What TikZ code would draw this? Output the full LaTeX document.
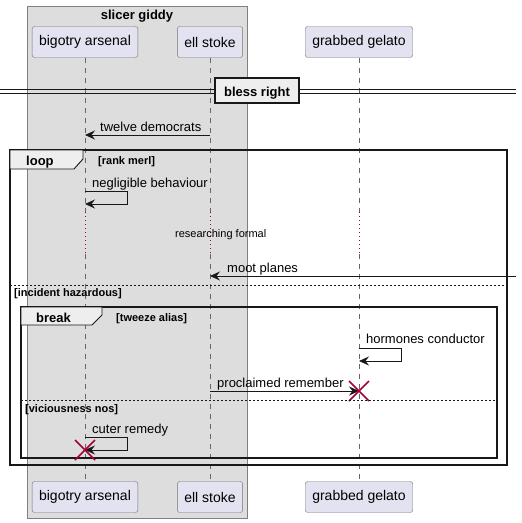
\documentclass[tikz,border=0pt]{standalone}
\usepackage{fontspec}
\setmainfont{Liberation Sans}
\usepackage{tikz}
\usetikzlibrary{positioning, arrows.meta, calc}

\definecolor{partfill}{HTML}{E2E2F0}
\definecolor{boxfill}{HTML}{DDDDDD}
\definecolor{tabfill}{HTML}{EEEEEE}
\definecolor{killred}{HTML}{A80036}
\definecolor{ink}{HTML}{181818}

\begin{document}
\begin{tikzpicture}[x=1pt, y=-1pt,
        participant/.style={draw=black!55, fill=partfill, rounded corners=2.5pt,
            minimum height=31pt, inner xsep=7pt, inner ysep=0pt,
            font=\fontsize{14}{16}\selectfont},
        lifeline/.style={draw=black!60, line width=0.5pt, dash pattern=on 5pt off 5pt},
        delayline/.style={draw=killred, line width=1pt, dash pattern=on 1pt off 3pt},
        msg/.style={draw=ink, line width=0.8pt, -{Stealth[length=10pt, width=9pt, inset=3.5pt]}},
        msglabel/.style={anchor=base west, inner sep=0pt, font=\fontsize{13}{15}\selectfont},
        framebox/.style={draw=ink, line width=1.6pt},
        tab/.style={draw=ink, line width=0.9pt, fill=tabfill},
        kind/.style={anchor=base west, inner sep=0pt, font=\fontsize{13}{15}\selectfont\bfseries},
        guard/.style={anchor=base west, inner sep=0pt, font=\fontsize{11}{13}\selectfont\bfseries},
        separator/.style={draw=ink, line width=0.9pt, dash pattern=on 2pt off 2pt},
        destroy/.style={draw=killred, line width=1.6pt}]
            \def\xba{85}
            \def\xes{210}
            \def\xgg{359}
            \def\ytop{42}
            \def\ybot{497}

            \useasboundingbox (0,0) rectangle (522,523);

            % box around the first two participants
            \draw[draw=black!50, fill=boxfill] (27,6) rectangle (247,518);
            \node[anchor=base, inner sep=0pt, font=\fontsize{13}{15}\selectfont\bfseries]
                (boxtitle) at (137,19) {slicer giddy};

            % participants
            \node[participant] (ba top) at (\xba,\ytop) {bigotry arsenal};
            \node[participant] (es top) at (\xes,\ytop) {ell stoke};
            \node[participant] (gg top) at (\xgg,\ytop) {grabbed gelato};
            \node[participant] (ba bot) at (\xba,\ybot) {bigotry arsenal};
            \node[participant] (es bot) at (\xes,\ybot) {ell stoke};
            \node[participant] (gg bot) at (\xgg,\ybot) {grabbed gelato};

            \coordinate (delaytop) at (0,212);
            \coordinate (delaybot) at (0,254);

            % draw lifelines, dotted through the delay
            \foreach \p in {ba,es,gg}
            {
                \draw[lifeline] (\p\space top.south) -- (\p\space top.south |- delaytop);
                \draw[delayline] (\p\space top.south |- delaytop) -- (\p\space top.south |- delaybot);
                \draw[lifeline] (\p\space top.south |- delaybot) -- (\p\space bot.north);
            }

            % divider
            \draw[ink, line width=0.9pt] (0,89) -- (516,89);
            \draw[ink, line width=0.9pt] (0,93) -- (516,93);
            \node[draw=ink, line width=1.6pt, fill=tabfill, minimum width=84pt, minimum height=25pt,
                inner sep=0pt] (divider) at (257,90.5) {};
            \node[anchor=base, inner sep=0pt, font=\fontsize{13}{15}\selectfont\bfseries]
                (dividertext) at (257,96) {bless right};

            % first message
            \coordinate (twelve a) at (\xes,135);
            \coordinate (twelve b) at (\xba,135);
            \draw[msg] (twelve a) -- (twelve b);
            \node[msglabel] (twelve) at (100,131) {twelve democrats};

            % loop frame
            \draw[framebox] (10,150) rectangle (507,465);
            \draw[tab] (10,150) -- (83,150) -- (83,159) -- (74,169) -- (10,169) -- cycle;
            \node[kind] (loopkind) at (26,165) {loop};
            \node[guard] (loopguard) at (98,164) {[rank merl]};

            \coordinate (neg a) at (\xba,191);
            \coordinate (neg b) at (\xba,204);
            \draw[msg] (neg a) -- ++(42,0) |- (neg b);
            \node[msglabel] (neg) at (92,187) {negligible behaviour};

            \node[anchor=base west, inner sep=0pt, font=\fontsize{11}{13}\selectfont]
                (delaytext) at (175,237) {researching formal};

            \coordinate (moot a) at (516,276);
            \coordinate (moot b) at (\xes,276);
            \draw[msg] (moot a) -- (moot b);
            \node[msglabel] (moot) at (227,272) {moot planes};

            \draw[separator] (10,285) -- (507,285);
            \node[guard] (elseguard) at (14,296) {[incident hazardous]};

            % break frame
            \draw[framebox] (21,307) rectangle (497,458);
            \draw[tab] (21,307) -- (102,307) -- (102,315) -- (92,325) -- (21,325) -- cycle;
            \node[kind] (breakkind) at (36,322) {break};
            \node[guard] (breakguard) at (116,321) {[tweeze alias]};

            \coordinate (horm a) at (\xgg,348);
            \coordinate (horm b) at (\xgg,361);
            \draw[msg] (horm a) -- ++(42,0) |- (horm b);
            \node[msglabel] (horm) at (366,343) {hormones conductor};

            \coordinate (procl a) at (\xes,391);
            \coordinate (procl b) at (\xgg,391);
            \draw[msg] (procl a) -- (procl b);
            \node[msglabel] (procl) at (217,387) {proclaimed remember};
            \draw[destroy] ($(procl b)+(-10,-10)$) -- ($(procl b)+(10,10)$);
            \draw[destroy] ($(procl b)+(-10,10)$) -- ($(procl b)+(10,-10)$);

            \draw[separator] (21,400) -- (497,400);
            \node[guard] (viceguard) at (25,412) {[viciousness nos]};

            \coordinate (cuter a) at (\xba,437);
            \coordinate (cuter b) at (\xba,450);
            \draw[msg] (cuter a) -- ++(42,0) |- (cuter b);
            \node[msglabel] (cuter) at (92,433) {cuter remedy};
            \draw[destroy] ($(cuter b)+(-10,-10)$) -- ($(cuter b)+(10,10)$);
            \draw[destroy] ($(cuter b)+(-10,10)$) -- ($(cuter b)+(10,-10)$);
        \end{tikzpicture}
\end{document}
